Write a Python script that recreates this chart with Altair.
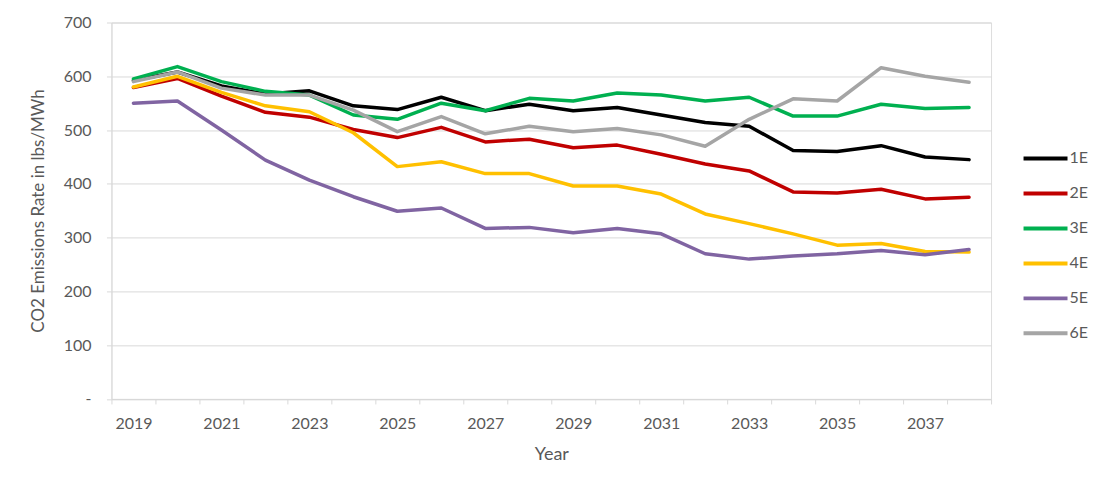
import altair as alt
import pandas as pd

years = list(range(2019, 2039))
series_names = ["1E", "2E", "3E", "4E", "5E", "6E"]
colors = ["#000000", "#C00000", "#00B050", "#FFC000", "#8064A2", "#A5A5A5"]

s1E = [592, 608, 582, 567, 573, 545, 538, 561, 536, 548, 536, 542, 528, 514, 507, 462, 460, 471, 450, 445]
s2E = [579, 596, 563, 533, 524, 501, 486, 505, 478, 483, 467, 472, 455, 437, 424, 385, 383, 390, 372, 375]
s3E = [595, 618, 590, 572, 565, 528, 520, 550, 536, 559, 554, 569, 565, 554, 561, 526, 526, 548, 540, 542]
s4E = [580, 600, 570, 545, 534, 495, 432, 441, 419, 419, 396, 396, 381, 344, 326, 307, 286, 289, 274, 273]
s5E = [550, 554, 500, 444, 407, 376, 349, 355, 317, 319, 309, 317, 307, 270, 260, 266, 270, 276, 268, 278]
s6E = [590, 608, 578, 565, 565, 537, 497, 525, 493, 507, 497, 503, 491, 470, 520, 558, 554, 616, 600, 589]

all_series = [s1E, s2E, s3E, s4E, s5E, s6E]

rows = []
for name, vals in zip(series_names, all_series):
    for y, v in zip(years, vals):
        rows.append({"Year": y, "Value": v, "Series": name})
df = pd.DataFrame(rows)

FONT = "Lato"
TXT = "#595959"
GRID = "#d9d9d9"

x_tick_values = [y - 0.5 for y in years] + [years[-1] + 0.5]

chart = alt.Chart(df).mark_line(strokeWidth=3.5, strokeCap="round", strokeJoin="round").encode(
    x=alt.X(
        "Year:Q",
        scale=alt.Scale(domain=[2018.5, 2038.5], nice=False, zero=False),
        axis=alt.Axis(
            title="Year",
            values=x_tick_values,
            labelOffset=22,
            labelExpr="((datum.value + 0.5) % 2 == 1 && datum.value < 2038) ? format(datum.value + 0.5, 'd') : ''",
            labelFlush=False,
            labelOverlap=False,
            labelBound=False,
            grid=False,
            tickSize=5,
            tickColor=GRID,
            domainColor=GRID,
            labelPadding=12,
            labelFont=FONT,
            labelFontSize=16,
            labelColor=TXT,
            titleFont=FONT,
            titleFontSize=18,
            titleFontWeight="normal",
            titleColor=TXT,
            titlePadding=14,
        ),
    ),
    y=alt.Y(
        "Value:Q",
        scale=alt.Scale(domain=[0, 700], nice=False),
        axis=alt.Axis(
            title="CO2 Emissions Rate in lbs/MWh",
            values=[0, 100, 200, 300, 400, 500, 600, 700],
            labelExpr="datum.value == 0 ? '-' : datum.label",
            grid=True,
            gridColor=GRID,
            tickSize=5,
            tickColor=GRID,
            domainColor=GRID,
            labelPadding=15.5,
            labelFont=FONT,
            labelFontSize=16,
            labelColor=TXT,
            titleFont=FONT,
            titleFontSize=17,
            titleFontWeight="normal",
            titleColor=TXT,
            titleX=-73,
            titleY=188,
            titleBaseline="middle",
            titleAlign="center",
            titleAngle=270,
        ),
    ),
    color=alt.Color(
        "Series:N",
        scale=alt.Scale(domain=series_names, range=colors),
        legend=alt.Legend(
            title=None,
            orient="none",
            legendX=921.5,
            legendY=123,
            symbolType="M-2,0L2,0",
            symbolSize=484,
            symbolStrokeWidth=4,
            labelOffset=11,
            rowPadding=14,
            labelFont=FONT,
            labelFontSize=16,
            labelColor=TXT,
            padding=0,
        ),
    ),
    order=alt.Order("Year:Q"),
).properties(
    width=880,
    height=376.6,
    autosize=alt.AutoSizeParams(type="none"),
    padding={"left": 103.5, "top": 14.4, "right": 110, "bottom": 80},
).configure_view(stroke=None).configure(background="white")

chart.save("out.html", embed_options={"renderer": "svg", "actions": False})
